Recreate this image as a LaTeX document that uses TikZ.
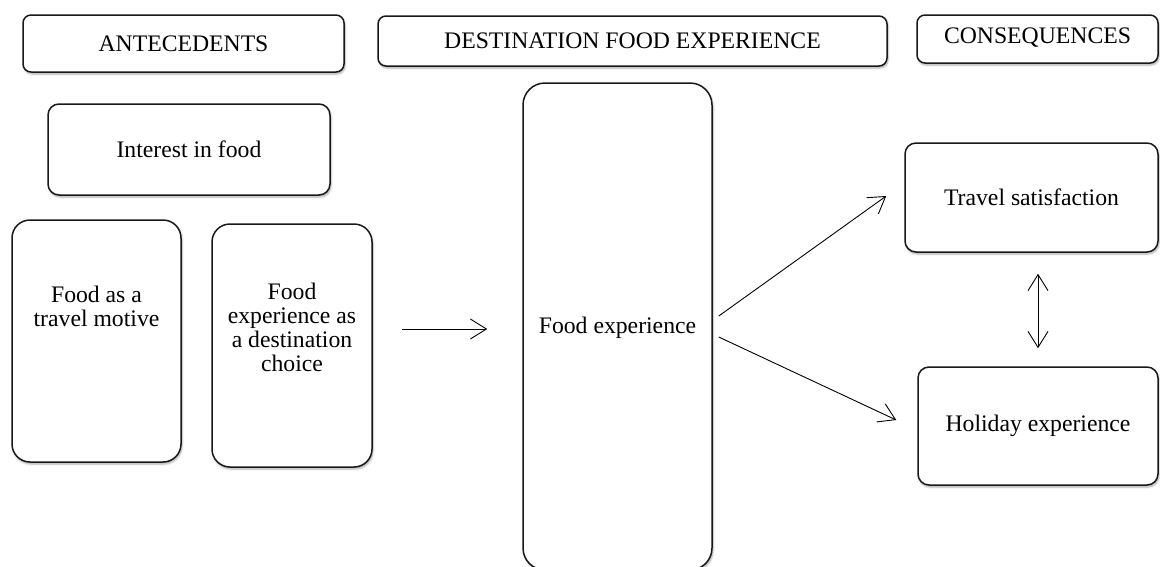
\documentclass[tikz,border=0pt]{standalone}
\usepackage{fontspec}
\setmainfont{Liberation Serif}
\usetikzlibrary{arrows.meta,shadows.blur}
\tikzset{
  box/.style={draw=black!90, line width=1.5pt, fill=white, inner sep=0pt,
    blur shadow={shadow xshift=1pt, shadow yshift=-2pt, shadow blur radius=2pt, shadow opacity=35},
    font=\fontsize{23.7}{24}\selectfont, align=center},
  lbl/.style={font=\fontsize{23.7}{24}\selectfont, align=center, inner sep=0pt},
  arr/.style={line width=0.9pt, -{Straight Barb[length=16pt,width=20pt,line width=0.9pt]}},
  darr/.style={line width=0.9pt, {Straight Barb[length=16pt,width=20pt,line width=0.9pt]}-{Straight Barb[length=16pt,width=20pt,line width=0.9pt]}}
}
\begin{document}
\begin{tikzpicture}[x=1pt,y=-1pt]
\useasboundingbox (0,0) rectangle (1160,566);
\clip (0,0) rectangle (1160,566);
% headers
\node[box, rounded corners=8pt, minimum width=321pt, minimum height=57pt] (ant) at (183.5,43.5) {ANTECEDENTS};
\node[box, rounded corners=8pt, minimum width=509pt, minimum height=50pt] (dest) at (632.5,41) {DESTINATION FOOD EXPERIENCE};
\node[box, rounded corners=8pt, minimum width=241pt, minimum height=48pt, text depth=7pt] (cons) at (1037.5,39) {CONSEQUENCES};
% antecedents
\node[box, rounded corners=11pt, minimum width=282pt, minimum height=91pt] (int) at (189,149.5) {Interest in food};
\node[box, rounded corners=18pt, minimum width=169pt, minimum height=242pt] (fam) at (96.5,341) {};
\node[lbl] (famt) at (96.5,306) {Food as a\\travel motive};
\node[box, rounded corners=18pt, minimum width=160pt, minimum height=243pt] (fed) at (292,345.5) {};
\node[lbl] (fedt) at (292,327) {Food\\experience as\\a destination\\choice};
% destination food experience
\node[box, rounded corners=22pt, minimum width=189pt, minimum height=487pt] (fe) at (617.5,326.5) {};
\node[lbl] (fet) at (617.5,328) {Food experience};
% consequences
\node[box, rounded corners=11pt, minimum width=253pt, minimum height=109pt] (ts) at (1031.5,197.5) {Travel satisfaction};
\node[box, rounded corners=11pt, minimum width=240pt, minimum height=118pt] (he) at (1038,426) {Holiday experience};
% connectors
\coordinate (ain) at (402,329);
\draw[arr] (ain) -- ([xshift=-35pt]fe.west |- ain);
\draw[arr] ([shift={(6,-10.5)}]fe.east) -- ([shift={(-18,-1.5)}]ts.west);
\draw[arr] ([shift={(6,10.5)}]fe.east) -- ([shift={(-21,-6)}]he.west);
\draw[darr] ([yshift=-21pt]he.north |- ts.south) -- ([yshift=18pt]he.north);
\end{tikzpicture}
\end{document}
